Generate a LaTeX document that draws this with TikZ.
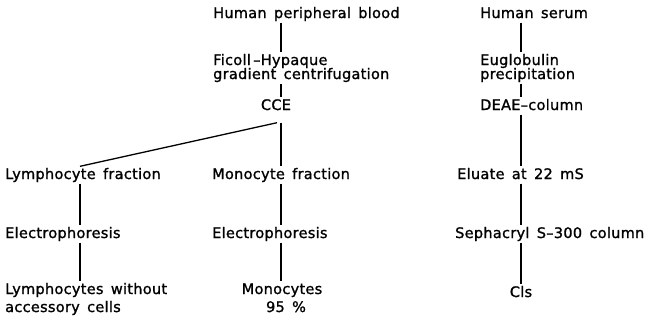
\documentclass[tikz,border=0pt]{standalone}
\usepackage{fontspec}
\newfontfamily\labfont[LetterSpace=2,WordSpace=1.5,FakeBold=1.2]{DejaVu Sans}
\usetikzlibrary{positioning}
\tikzset{
  lab/.style={font=\labfont\fontsize{14.5}{16}\selectfont,anchor=base west,inner xsep=0pt,inner ysep=1.5pt,text height=11pt,text depth=3pt},
  link/.style={line width=1.3pt}
}
\begin{document}
\begin{tikzpicture}[x=1pt,y=-1pt]
  \useasboundingbox (0,0) rectangle (655,325);
  % column axes
  \coordinate (cL) at (80,0);
  \coordinate (cM) at (281,0);
  \coordinate (cR) at (521,0);
  % middle column
  \node[lab] (blood) at (213,18) {Human peripheral blood};
  \node[lab] (ficoll) at (213,65) {Ficoll\,–Hypaque};
  \node[lab] (grad) at (213,79) {gradient centrifugation};
  \node[lab,anchor=base] (cce) at (276,110) {CCE};
  \coordinate[below=8pt of cce.south -| cM] (fork);
  \node[lab] (monf) at (212,179) {Monocyte fraction};
  \node[lab] (monel) at (212,238) {Electrophoresis};
  \node[lab,anchor=base] (mono) at (282,294) {Monocytes};
  \node[lab,anchor=base] (pct) at (286,312) {95 \%};
  % left column
  \node[lab] (lymf) at (5,179) {Lymphocyte fraction};
  \node[lab] (lymel) at (5,238) {Electrophoresis};
  \node[lab] (lymw) at (5,294) {Lymphocytes without};
  \node[lab] (acc) at (5,312) {accessory cells};
  % right column
  \node[lab] (serum) at (480,18) {Human serum};
  \node[lab] (eug) at (480,65) {Euglobulin};
  \node[lab] (prec) at (480,79) {precipitation};
  \node[lab] (deae) at (480,110) {DEAE–column};
  \node[lab] (elu) at (457,179) {Eluate at 22 mS};
  \node[lab] (seph) at (455,238) {Sephacryl S–300 column};
  \node[lab,anchor=base] (cls) at (521,297) {Cls};
  % connectors
  \draw[link] (blood.south -| cM) -- (ficoll.north -| cM);
  \draw[link] (grad.south -| cM) -- (cce.north -| cM);
  \draw[link] (fork) -- (monf.north -| cM);
  \draw[link] ([xshift=-4pt]fork) -- (lymf.north -| cL);
  \draw[link] (monf.south -| cM) -- (monel.north -| cM);
  \draw[link] (monel.south -| cM) -- (mono.north -| cM);
  \draw[link] (lymf.south -| cL) -- (lymel.north -| cL);
  \draw[link] (lymel.south -| cL) -- (lymw.north -| cL);
  \draw[link] (serum.south -| cR) -- (eug.north -| cR);
  \draw[link] (prec.south -| cR) -- (deae.north -| cR);
  \draw[link] (deae.south -| cR) -- (elu.north -| cR);
  \draw[link] (elu.south -| cR) -- (seph.north -| cR);
  \draw[link] (seph.south -| cR) -- (cls.north -| cR);
\end{tikzpicture}
\end{document}
